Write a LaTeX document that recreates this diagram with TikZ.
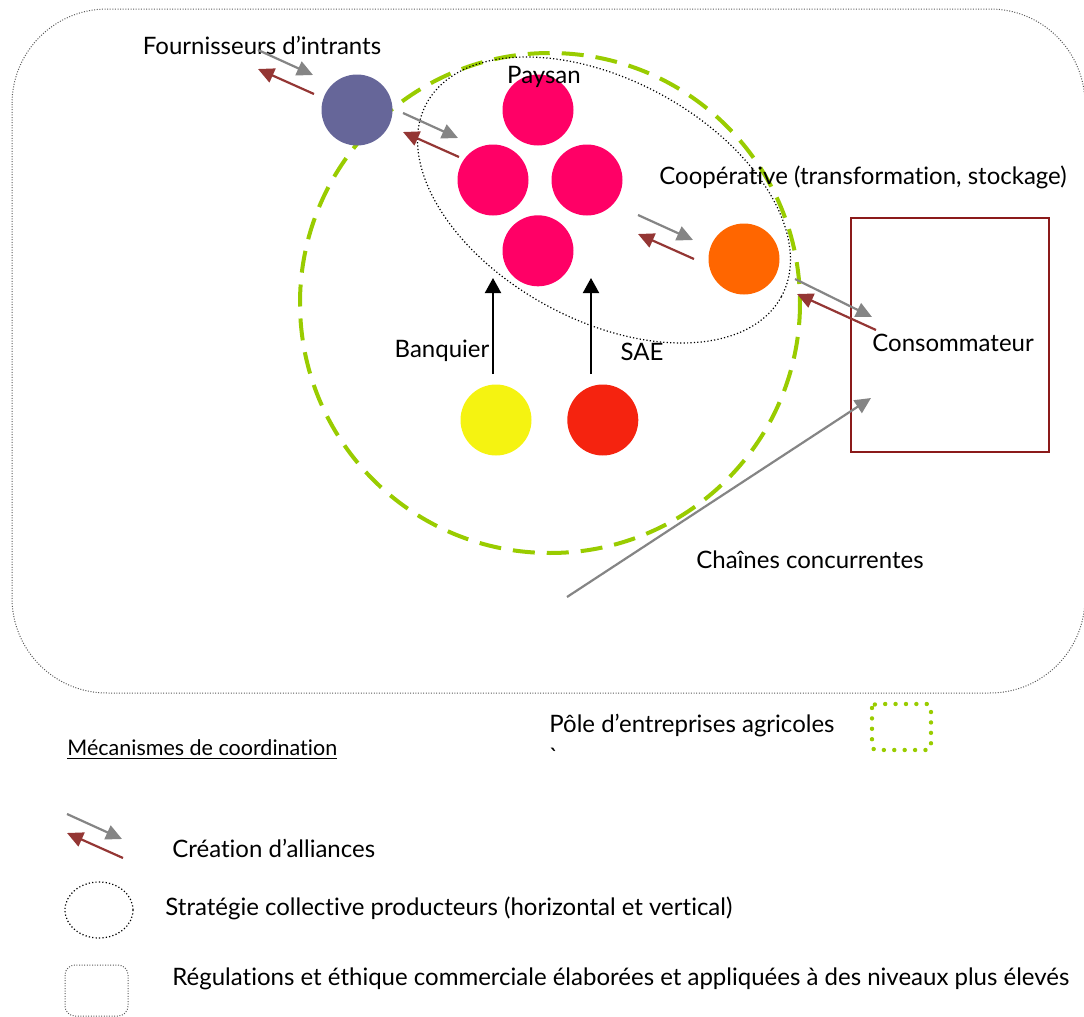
\documentclass[tikz,border=0pt]{standalone}
\usepackage{fontspec}
\setmainfont{Lato}[Ligatures={TeX,NoCommon}]
\usetikzlibrary{arrows.meta, positioning, calc}
\definecolor{fournColor}{HTML}{666699}
\definecolor{paysColor}{HTML}{FF0066}
\definecolor{coopColor}{HTML}{FF6600}
\definecolor{banqColor}{HTML}{F5F311}
\definecolor{saeColor}{HTML}{F5230F}
\definecolor{poleGreen}{HTML}{99CC00}
\definecolor{boxRed}{HTML}{8B1A1A}
\definecolor{arrowGray}{HTML}{858585}
\definecolor{arrowRed}{HTML}{943634}
\tikzset{
    actor/.style={circle, minimum size=35.5pt, inner sep=0pt},
    txt/.style={font=\fontsize{12}{14}\selectfont, inner sep=0pt},
    arrow/.style={line width=1pt, -{Triangle[length=7.5pt, width=8pt]}},
    giveArrow/.style={line width=1.1pt, draw=arrowGray, -{Triangle[length=8pt, width=7.5pt, fill=arrowGray]}, color=arrowGray},
    takeArrow/.style={line width=1.1pt, draw=arrowRed, -{Triangle[length=8pt, width=7.5pt]}, color=arrowRed},
    fineDots/.style={line width=0.6pt, dash pattern=on 0.6pt off 1.1pt},
    alliance/.pic={
        \draw[giveArrow] (0,0) -- (55,25);
        \draw[takeArrow] (56,44) -- (0,19);
    }
}
\begin{document}
\begin{tikzpicture}[x=0.5pt, y=-0.5pt]
    \useasboundingbox (0,0) rectangle (1084,1017);

    % regulations (outer frame) and pole
    \draw[gray!70!black, line width=0.5pt, dash pattern=on 0.5pt off 0.8pt, rounded corners=47.5pt] (12,9) rectangle (1085,693);
    \draw[poleGreen, line width=2pt, dash pattern=on 11pt off 6pt] (550,303) circle [radius=250];
    \draw[fineDots, rotate around={-28.6:(604,200)}] (604,200) ellipse [x radius=202, y radius=120];

    % actors
    \node[actor, fill=fournColor] (fourn) at (357,110) {};
    \node[actor, fill=paysColor] (pays1) at (538,110) {};
    \node[actor, fill=paysColor] (pays2) at (493,180) {};
    \node[actor, fill=paysColor] (pays3) at (587,180) {};
    \node[actor, fill=paysColor] (pays4) [below=34.5pt of pays1] {};
    \node[actor, fill=coopColor] (coop) at (744,259) {};
    \node[actor, fill=banqColor] (banq) at (496,420) {};
    \node[actor, fill=saeColor] (sae) [right=17.5pt of banq] {};
    \node[draw=boxRed, line width=1pt, minimum width=99pt, minimum height=117pt, inner sep=0pt] (consoBox) at (950,335) {};

    % labels
    \node[txt] (fournTxt) at (262,45) {Fournisseurs d’intrants};
    \node[txt] (paysTxt) at (544,77) {Paysan};
    \node[txt, anchor=west] (coopTxt) at (659,177) {Coopérative (transformation, stockage)};
    \node[txt] (banqTxt) at (442,351) {Banquier};
    \node[txt] (saeTxt) at (642,352) {SAE};
    \node[txt, anchor=west] (consoTxt) at (872,343) {Consommateur};
    \node[txt] (chainTxt) at (810,560) {Chaînes concurrentes};

    % support arrows
    \coordinate (banqTip) at (493,278);
    \coordinate (saeTip) at (591,278);
    \draw[arrow] (banqTip |- 0,374) -- (banqTip);
    \draw[arrow] (saeTip |- 0,374) -- (saeTip);

    % alliances
    \pic at (258,50) {alliance};
    \pic at (403,113) {alliance};
    \pic at (638,215) {alliance};
    \coordinate (coopOut) at (795,279);
    \coordinate (consoIn) at (872,317);
    \draw[giveArrow] (coopOut) -- (consoIn);
    \draw[takeArrow] (876,330) -- (797,294);
    \coordinate (chainStart) at (567,597);
    \coordinate (chainTip) at (871,398);
    \draw[giveArrow] (chainStart) -- (chainTip);

    % legend
    \node[txt, font=\fontsize{10.75}{13}\selectfont, anchor=west] (mecaTxt) at (67,750) {\underline{Mécanismes de coordination}};
    \node[txt, anchor=west] (poleTxt) at (549,726) {Pôle d’entreprises agricoles};
    \node[txt] (tickTxt) at (554,757) {\textasciigrave};
    \draw[poleGreen, line width=2.2pt, line cap=round, dash pattern=on 0pt off 5.2pt, rounded corners=2pt] (872,704) rectangle (931,750);

    \pic at (67,814) {alliance};
    \node[txt, anchor=west] (allyTxt) at (172,848) {Création d’alliances};
    \draw[fineDots] (99,910) ellipse [x radius=34, y radius=28];
    \node[txt, anchor=west] (stratTxt) at (165,908) {Stratégie collective producteurs (horizontal et vertical)};
    \draw[gray!70!black, line width=0.5pt, dash pattern=on 0.5pt off 0.8pt, rounded corners=5pt] (65,965) rectangle (128,1016);
    \node[txt, anchor=west] (regTxt) at (172,979) {Régulations et éthique commerciale élaborées et appliquées à des niveaux plus élevés};
\end{tikzpicture}
\end{document}
